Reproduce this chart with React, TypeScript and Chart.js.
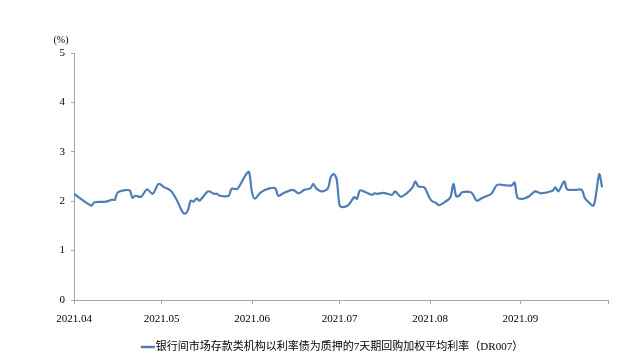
import React, { useEffect, useRef } from "react";
import { Chart, registerables } from "chart.js";

Chart.register(...registerables);

const YEAR = 2021;

const dates = [
  "04-01", "04-07", "04-08", "04-12", "04-14", "04-15", "04-16", "04-20", "04-21", "04-22",
  "04-24", "04-26", "04-28", "04-30", "05-02", "05-04", "05-06", "05-08", "05-09", "05-10",
  "05-11", "05-12", "05-13", "05-14", "05-17", "05-19", "05-20", "05-21", "05-24", "05-25",
  "05-27", "05-30", "05-31", "06-01", "06-02", "06-04", "06-07", "06-09", "06-10", "06-12",
  "06-15", "06-17", "06-19", "06-21", "06-22", "06-23", "06-25", "06-27", "06-28", "06-29",
  "06-30", "07-01", "07-02", "07-04", "07-06", "07-07", "07-08", "07-10", "07-12", "07-13",
  "07-14", "07-16", "07-19", "07-20", "07-22", "07-24", "07-26", "07-27", "07-28", "07-30",
  "08-01", "08-02", "08-03", "08-04", "08-06", "08-08", "08-09", "08-10", "08-11", "08-12",
  "08-15", "08-16", "08-17", "08-19", "08-22", "08-24", "08-27", "08-29", "08-30", "08-31",
  "09-02", "09-04", "09-06", "09-08", "09-12", "09-13", "09-14", "09-16", "09-17", "09-20",
  "09-22", "09-23", "09-24", "09-26", "09-27", "09-28", "09-29",
];

const dr007 = [
  2.15, 1.91, 1.98, 1.99, 2.03, 2.03, 2.18, 2.22, 2.07, 2.11,
  2.09, 2.24, 2.15, 2.35, 2.28, 2.22, 2.05, 1.8, 1.75, 1.81,
  2.01, 1.99, 2.06, 2.01, 2.2, 2.15, 2.15, 2.11, 2.11, 2.25,
  2.25, 2.55, 2.59, 2.18, 2.05, 2.18, 2.26, 2.26, 2.11, 2.17,
  2.23, 2.16, 2.23, 2.26, 2.35, 2.26, 2.2, 2.26, 2.49, 2.55,
  2.45, 1.92, 1.88, 1.92, 2.08, 2.05, 2.22, 2.18, 2.13, 2.16,
  2.15, 2.17, 2.13, 2.2, 2.09, 2.16, 2.28, 2.4, 2.3, 2.28,
  2.05, 1.99, 1.97, 1.92, 1.98, 2.08, 2.35, 2.1, 2.11, 2.18,
  2.18, 2.11, 2.01, 2.07, 2.15, 2.33, 2.32, 2.32, 2.38, 2.07,
  2.05, 2.1, 2.2, 2.16, 2.21, 2.28, 2.2, 2.4, 2.24, 2.23,
  2.23, 2.07, 2.0, 1.91, 2.18, 2.55, 2.28,
];

const monthTicks = ["04-01", "05-01", "06-01", "07-01", "08-01", "09-01", "10-01"];
const monthLabels = ["2021.04", "2021.05", "2021.06", "2021.07", "2021.08", "2021.09", ""];
const seriesName = "银行间市场存款类机构以利率债为质押的7天期回购加权平均利率（DR007）";
const yUnit = "(%)";

const dayIndex = (md: string) => {
  const [m, d] = md.split("-").map(Number);
  return (Date.UTC(YEAR, m - 1, d) - Date.UTC(YEAR, 3, 1)) / 86400000;
};

const LINE_COLOR = "#4f7db5";
const AXIS_COLOR = "#a6a6a6";
const FONT = "'Liberation Serif', 'Times New Roman', 'Noto Sans CJK SC', serif";

export default function App() {
  const ref = useRef<HTMLCanvasElement | null>(null);

  useEffect(() => {
    if (!ref.current) return;
    const extras = {
      id: "extras",
      afterDraw(chart: any) {
        const ctx = chart.ctx;
        ctx.save();
        ctx.fillStyle = "#000";
        ctx.font = `10px ${FONT}`;
        ctx.textAlign = "center";
        ctx.textBaseline = "middle";
        ctx.fillText(yUnit, 61, 40);
        ctx.font = `11px ${FONT}`;
        const tw = ctx.measureText(seriesName).width;
        const mw = 14;
        const total = mw + 1 + tw;
        const cx = 332;
        const cy = 347;
        const x0 = cx - total / 2;
        ctx.strokeStyle = LINE_COLOR;
        ctx.lineWidth = 2.5;
        ctx.beginPath();
        ctx.moveTo(x0, cy);
        ctx.lineTo(x0 + mw, cy);
        ctx.stroke();
        ctx.textAlign = "left";
        ctx.fillText(seriesName, x0 + mw + 1, cy);
        ctx.restore();
      },
    };
    const chart = new Chart(ref.current, {
      type: "line",
      data: {
        datasets: [
          {
            label: seriesName,
            data: dates.map((d, i) => ({ x: dayIndex(d), y: dr007[i] })),
            borderColor: LINE_COLOR,
            backgroundColor: LINE_COLOR,
            borderWidth: 2.2,
            pointRadius: 0,
            tension: 0.3,
          },
        ],
      },
      options: {
        animation: false,
        responsive: false,
        devicePixelRatio: 1,
        layout: { padding: { left: 0, right: 31, top: 53, bottom: 29 } },
        plugins: { legend: { display: false }, tooltip: { enabled: false } },
        scales: {
          x: {
            type: "linear",
            min: dayIndex(monthTicks[0]),
            max: dayIndex(monthTicks[monthTicks.length - 1]),
            afterBuildTicks: (s: any) => {
              s.ticks = monthTicks.map((t) => ({ value: dayIndex(t) }));
            },
            afterFit: (s: any) => {
              s.height = 30;
            },
            ticks: {
              autoSkip: false,
              maxRotation: 0,
              padding: 9,
              color: "#000",
              font: { family: FONT, size: 11 },
              callback: (_v: any, i: number) => monthLabels[i],
            },
            grid: { drawOnChartArea: false, tickLength: 4, color: AXIS_COLOR },
            border: { color: AXIS_COLOR },
          },
          y: {
            min: 0,
            max: 5,
            afterFit: (s: any) => {
              s.width = 74;
            },
            ticks: {
              stepSize: 1,
              padding: 6,
              color: "#000",
              font: { family: FONT, size: 11 },
            },
            grid: { drawOnChartArea: false, tickLength: 3, color: AXIS_COLOR },
            border: { color: AXIS_COLOR },
          },
        },
      },
      plugins: [extras],
    });
    return () => chart.destroy();
  }, []);

  return (
    <div style={{ position: "absolute", left: 0, top: 0, width: 639, height: 359, background: "#fff" }}>
      <canvas ref={ref} width={639} height={359} />
    </div>
  );
}
